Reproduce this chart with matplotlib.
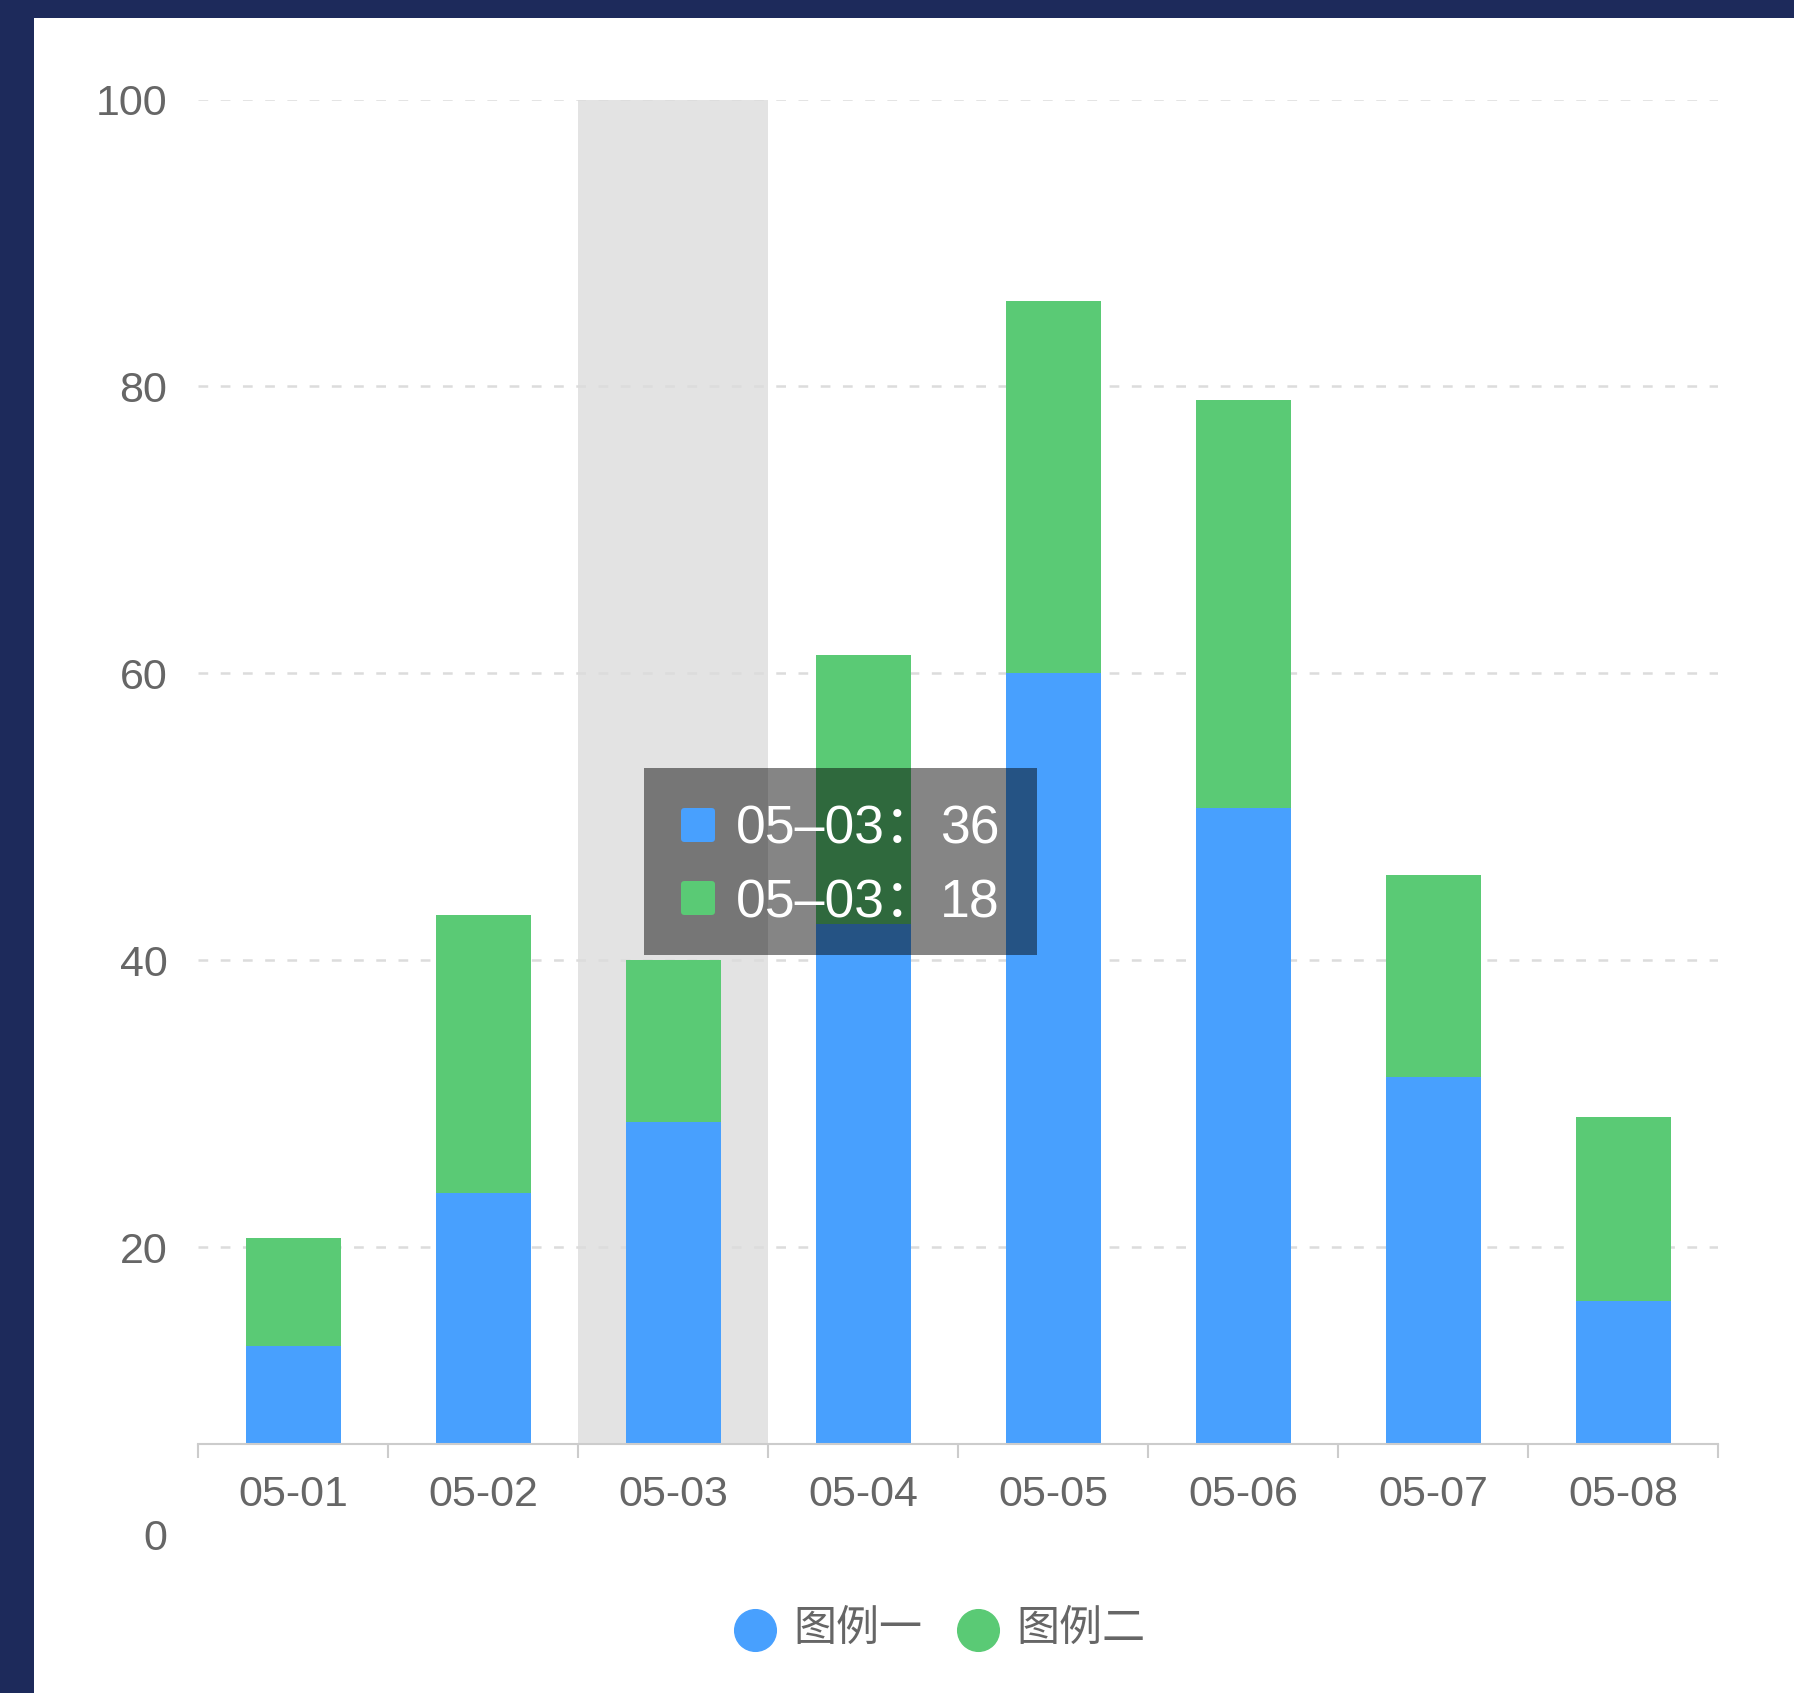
import numpy as np
import matplotlib.pyplot as plt
from matplotlib.patches import Rectangle, FancyBboxPatch
from matplotlib.lines import Line2D

plt.rcParams['font.family'] = ['Liberation Sans', 'Noto Sans CJK SC', 'DejaVu Sans']
plt.rcParams['lines.scale_dashes'] = False

# ---------------------------------------------------------------
# data
# ---------------------------------------------------------------
dates = ['05-01', '05-02', '05-03', '05-04', '05-05', '05-06', '05-07', '05-08']
series_one = [11, 28, 36, 58, 86, 71, 41, 16]
series_two = [12, 31, 18, 30, 41.5, 45.5, 22.5, 20.5]
legend_names = ['图例一', '图例二']

# y labels as rendered by the mini-program chart (offset from the bar scale)
ytick_pos = [-10, 22, 54, 86, 118, 150]
ytick_text = ['0', '20', '40', '60', '80', '100']
y_max = 150
active = 2  # category under the tooltip

BLUE = '#48a0fe'
GREEN = '#5aca75'
NAVY = '#1d2a5b'
LABEL = '#666666'
AXIS = '#cccccc'

W, H = 1794, 1693


def fx(px):
    return px / W


def fy(py):
    return 1 - py / H


fig = plt.figure(figsize=(W / 100, H / 100), dpi=100)
fig.patch.set_facecolor('white')

# dark frame along top and left edge
fig.add_artist(Rectangle((0, fy(18)), 1, 18 / H, transform=fig.transFigure,
                         color=NAVY, lw=0))
fig.add_artist(Rectangle((0, 0), fx(34), 1, transform=fig.transFigure,
                         color=NAVY, lw=0))

ax = fig.add_axes([fx(198), fy(1534), (1718 - 198) / W, (1534 - 99.5) / H])
ax.patch.set_alpha(0)
x = np.arange(len(dates))
ax.set_xlim(-0.5, len(dates) - 0.5)
ax.set_ylim(ytick_pos[0], y_max)

# hover band
ax.bar(active, y_max, width=1.0, color='#e3e3e3', zorder=0.5)

# dashed grid
for yv in ytick_pos[1:]:
    ax.axhline(yv, color='#dcdcdc', lw=1.8, linestyle=(0, (7, 9)), zorder=1)

ax.bar(x, series_one, width=0.5, color=BLUE, zorder=2)
ax.bar(x, series_two, width=0.5, bottom=series_one, color=GREEN, zorder=2)

for side in ['top', 'right', 'left']:
    ax.spines[side].set_visible(False)
ax.spines['bottom'].set_position(('data', 0))
ax.spines['bottom'].set_color(AXIS)
ax.spines['bottom'].set_linewidth(1.5)

ax.set_xticks(x)
ax.set_xticklabels(dates)
ax.set_xticks(np.arange(-0.5, len(dates)), minor=True)
ax.tick_params(axis='x', which='major', length=0, pad=22, labelsize=31,
               labelcolor=LABEL)
ax.tick_params(axis='x', which='minor', length=10, width=1.5, color=AXIS,
               direction='out')

ax.set_yticks(ytick_pos)
ax.set_yticklabels(ytick_text)
ax.tick_params(axis='y', length=0, pad=22, labelsize=31, labelcolor=LABEL)

# tooltip
fig.add_artist(Rectangle((fx(644), fy(955)), (1037 - 644) / W, (955 - 768) / H,
                         transform=fig.transFigure, facecolor='black',
                         alpha=0.48, lw=0, zorder=10))
tip_rows = [(series_one[active], BLUE, 825, 843), (series_two[active], GREEN, 898, 917)]
for val, col, yc, base in tip_rows:
    fig.add_artist(FancyBboxPatch((fx(681), fy(yc + 17)), 34 / W, 34 / H,
                                  boxstyle='round,pad=0,rounding_size=0.002',
                                  transform=fig.transFigure, facecolor=col,
                                  lw=0, zorder=11))
    fig.text(fx(736), fy(base), f"{dates[active].replace('-', '–')}：",
             color='white', fontsize=38.5, va='baseline', ha='left', zorder=12)
    fig.text(fx(940), fy(base), f"{val}", color='white', fontsize=38.5,
             va='baseline', ha='left', zorder=12)

# legend
for name, col, xc in zip(legend_names, [BLUE, GREEN], [755, 978]):
    fig.add_artist(Line2D([fx(xc)], [fy(1630)], marker='o', ms=30, color=col,
                          mec=col, transform=fig.transFigure))
    fig.text(fx(xc + 38), fy(1630), name, color=LABEL, fontsize=31,
             va='center', ha='left')

fig.savefig('out.png', dpi=100, facecolor='white')
